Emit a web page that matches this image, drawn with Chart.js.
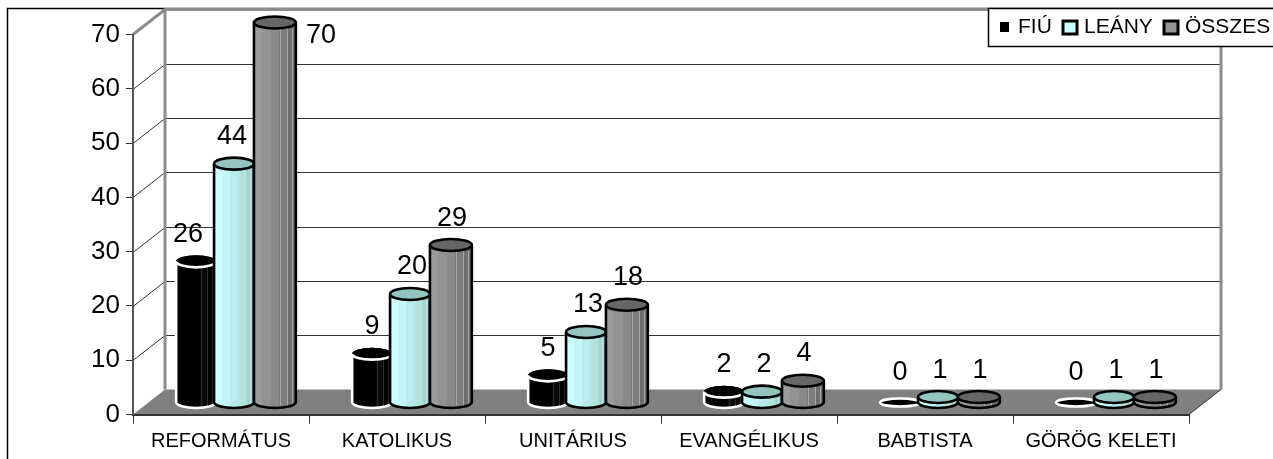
<!DOCTYPE html>
<html>
<head>
<meta charset="utf-8">
<title>Felekezetek</title>
<script src="https://cdn.jsdelivr.net/npm/chart.js@4/dist/chart.umd.min.js"></script>
<style>
html, body { margin: 0; padding: 0; background: #fff; overflow: hidden; }
canvas { display: block; }
</style>
</head>
<body>
<canvas id="chart" width="1273" height="459"></canvas>
<script>
const categories = ['REFORMÁTUS', 'KATOLIKUS', 'UNITÁRIUS', 'EVANGÉLIKUS', 'BABTISTA', 'GÖRÖG KELETI'];
const fiu = [26, 9, 5, 2, 0, 0];
const leany = [44, 20, 13, 2, 1, 1];
const osszes = [70, 29, 18, 4, 1, 1];
const yTicks = [0, 10, 20, 30, 40, 50, 60, 70];

const FONT = '"Liberation Sans", Arial, sans-serif';
const WALL = { dx: 32, dy: 25 };   // depth of the 3D box
const BAR = { dx: 15, dy: 12, ry: 6 };  // bars stand in the middle of the floor

// look of each series: body bands left to right, cap, outline; shift/extra tighten the overlap
const looks = [
    { bands: ['#000000', '#000000', '#000000', '#0c0c0c', '#000000'], cap: '#000000', line: '#ffffff', facet: '#2a2a2a', shift: 0, extra: 0 },
    { bands: ['#ccffff', '#c4f6f6', '#bbecec', '#b2e2e0', '#a6d4d2'], cap: '#93c4c0', line: '#000000', facet: '#c0e4e4', shift: -2, extra: 0 },
    { bands: ['#9a9a9a', '#929292', '#8a8a8a', '#7e7e7e', '#707070'], cap: '#666666', line: '#000000', facet: '#a8a8a8', shift: -1, extra: 2 }
];
// the first group's labels sit a little left of their bars
const labelShift = { '0,0': -8, '1,0': -4 };

function bandGradient(ctx, left, right, bands) {
    const g = ctx.createLinearGradient(left, 0, right, 0);
    bands.forEach((c, i) => {
        g.addColorStop(i / bands.length, c);
        g.addColorStop((i + 1) / bands.length, c);
    });
    return g;
}

function drawCylinder(ctx, cx, top, base, w, look, value) {
    const rx = w / 2;
    const left = cx - rx;
    const right = cx + rx;

    // flat lens for an empty bar
    if (value === 0) {
        ctx.beginPath();
        ctx.ellipse(cx, base, rx, 4, 0, 0, Math.PI * 2);
        ctx.fillStyle = look.cap;
        ctx.fill();
        ctx.lineWidth = 2.5;
        ctx.strokeStyle = look.line;
        ctx.stroke();
        return;
    }

    ctx.beginPath();
    ctx.moveTo(left, top);
    ctx.lineTo(left, base);
    ctx.ellipse(cx, base, rx, BAR.ry, 0, Math.PI, 0, true);
    ctx.lineTo(right, top);
    ctx.ellipse(cx, top, rx, BAR.ry, 0, 0, Math.PI, true);
    ctx.closePath();
    ctx.fillStyle = bandGradient(ctx, left, right, look.bands);
    ctx.fill();

    // thin facet lines toward the right side
    ctx.lineWidth = 1;
    ctx.strokeStyle = look.facet;
    [0.62, 0.78, 0.9].forEach(f => {
        const x = Math.round(left + w * f) + 0.5;
        ctx.beginPath();
        ctx.moveTo(x, top + BAR.ry);
        ctx.lineTo(x, base + BAR.ry - 2);
        ctx.stroke();
    });

    ctx.lineWidth = 2.6;
    ctx.strokeStyle = look.line;
    ctx.beginPath();
    ctx.moveTo(left, top);
    ctx.lineTo(left, base);
    ctx.ellipse(cx, base, rx, BAR.ry, 0, Math.PI, 0, true);
    ctx.lineTo(right, top);
    ctx.stroke();

    ctx.beginPath();
    ctx.ellipse(cx, top, rx, BAR.ry, 0, 0, Math.PI * 2);
    ctx.fillStyle = look.cap;
    ctx.fill();
    if (look.cap === '#000000') {
        // black bars only show the white edge on the front of the cap
        ctx.beginPath();
        ctx.ellipse(cx, top, rx, BAR.ry, 0, 0, Math.PI);
        ctx.stroke();
    } else {
        ctx.stroke();
    }
}

const box3d = {
    id: 'box3d',
    beforeDraw(chart) {
        const { ctx, chartArea: a, scales } = chart;
        const d = WALL;
        ctx.save();

        // outer frame
        ctx.strokeStyle = '#000';
        ctx.lineWidth = 1.5;
        ctx.beginPath();
        ctx.moveTo(7.5, 459);
        ctx.lineTo(7.5, 8.5);
        ctx.lineTo(1273, 8.5);
        ctx.stroke();

        // floor
        ctx.fillStyle = '#808080';
        ctx.beginPath();
        ctx.moveTo(a.left, a.bottom);
        ctx.lineTo(a.left + d.dx, a.bottom - d.dy);
        ctx.lineTo(a.right + d.dx, a.bottom - d.dy);
        ctx.lineTo(a.right, a.bottom);
        ctx.closePath();
        ctx.fill();

        // gridlines, running back along the side wall
        ctx.lineWidth = 1;
        ctx.strokeStyle = '#333';
        yTicks.slice(1, -1).forEach(t => {
            const y = Math.round(scales.y.getPixelForValue(t)) + 0.5;
            ctx.beginPath();
            ctx.moveTo(a.left, y);
            ctx.lineTo(a.left + d.dx, y - d.dy);
            ctx.lineTo(a.right + d.dx, y - d.dy);
            ctx.stroke();
        });

        // floor right edge
        ctx.beginPath();
        ctx.moveTo(a.right, a.bottom);
        ctx.lineTo(a.right + d.dx, a.bottom - d.dy);
        ctx.stroke();

        // thick gray wall edges
        ctx.strokeStyle = '#8c8c8c';
        ctx.lineWidth = 3;
        ctx.beginPath();
        ctx.moveTo(a.left, a.top);
        ctx.lineTo(a.left + d.dx, a.top - d.dy);
        ctx.lineTo(a.right + d.dx, a.top - d.dy);
        ctx.lineTo(a.right + d.dx, a.bottom - d.dy);
        ctx.moveTo(a.left + d.dx, a.top - d.dy);
        ctx.lineTo(a.left + d.dx, a.bottom - d.dy);
        ctx.stroke();
        ctx.restore();
    },
    // replace the flat bars by cylinders
    beforeDatasetDraw() {
        return false;
    },
    afterDatasetsDraw(chart) {
        const ctx = chart.ctx;
        ctx.save();
        categories.forEach((c, i) => {
            chart.data.datasets.forEach((ds, s) => {
                const el = chart.getDatasetMeta(s).data[i];
                const look = looks[s];
                drawCylinder(ctx, el.x + BAR.dx + look.shift, el.y - BAR.dy, el.base - BAR.dy, el.width + look.extra, look, ds.data[i]);
            });
        });

        ctx.fillStyle = '#000';
        ctx.font = '27px ' + FONT;
        ctx.textAlign = 'center';
        ctx.textBaseline = 'middle';
        categories.forEach((c, i) => {
            chart.data.datasets.forEach((ds, s) => {
                const el = chart.getDatasetMeta(s).data[i];
                const cx = el.x + BAR.dx + (labelShift[s + ',' + i] || 0);
                const top = el.y - BAR.dy;
                // no room above the tallest bar: goes to its right side
                if (top - 28 < 20) {
                    ctx.fillText(ds.data[i], cx + 45, top + 13);
                } else {
                    ctx.fillText(ds.data[i], cx, top - (ds.data[i] === 0 ? 30 : 27));
                }
            });
        });
        ctx.restore();
    },
    afterDraw(chart) {
        const ctx = chart.ctx;
        const ds = chart.data.datasets;
        ctx.save();
        ctx.fillStyle = '#fff';
        ctx.fillRect(988.5, 8.5, 290, 38);
        ctx.strokeStyle = '#000';
        ctx.lineWidth = 1.5;
        ctx.strokeRect(988.5, 8.5, 290, 38);

        ctx.fillStyle = '#000';
        ctx.fillRect(1000, 22, 9, 10);
        ctx.lineWidth = 3;
        ctx.fillStyle = ds[1].backgroundColor;
        ctx.fillRect(1063, 21, 14, 13);
        ctx.strokeRect(1063, 21, 14, 13);
        ctx.fillStyle = ds[2].backgroundColor;
        ctx.fillRect(1164, 21, 14, 13);
        ctx.strokeRect(1164, 21, 14, 13);

        ctx.fillStyle = '#000';
        ctx.font = '21px ' + FONT;
        ctx.textAlign = 'left';
        ctx.textBaseline = 'middle';
        ctx.fillText(ds[0].label, 1018, 27);
        ctx.fillText(ds[1].label, 1084, 27);
        ctx.fillText(ds[2].label, 1185, 27);
        ctx.restore();
    }
};

new Chart(document.getElementById('chart'), {
    type: 'bar',
    data: {
        labels: categories,
        datasets: [
            { label: 'FIÚ', data: fiu, backgroundColor: '#000000' },
            { label: 'LEÁNY', data: leany, backgroundColor: '#ccffff' },
            { label: 'ÖSSZES', data: osszes, backgroundColor: '#969696' }
        ]
    },
    plugins: [box3d],
    options: {
        responsive: false,
        animation: false,
        devicePixelRatio: 1,
        layout: { padding: { left: 0, top: 34.5, right: 84, bottom: 0 } },
        categoryPercentage: 0.68,
        barPercentage: 1,
        plugins: {
            legend: { display: false },
            tooltip: { enabled: false }
        },
        scales: {
            x: {
                afterFit: scale => { scale.height = 44.5; },
                grid: { drawOnChartArea: false, tickLength: 9, color: '#333', lineWidth: 1 },
                border: { color: '#333', width: 2 },
                ticks: { color: '#000', padding: 6, maxRotation: 0, autoSkip: false, font: { family: FONT, size: 20 } }
            },
            y: {
                min: 0,
                max: 70,
                afterFit: scale => { scale.width = 133; },
                afterBuildTicks: scale => { scale.ticks = yTicks.map(v => ({ value: v })); },
                grid: { drawOnChartArea: false, tickLength: 7, color: '#333', lineWidth: 1 },
                border: { color: '#555', width: 2 },
                ticks: { color: '#000', padding: 6, font: { family: FONT, size: 26 } }
            }
        }
    }
});
</script>
</body>
</html>
